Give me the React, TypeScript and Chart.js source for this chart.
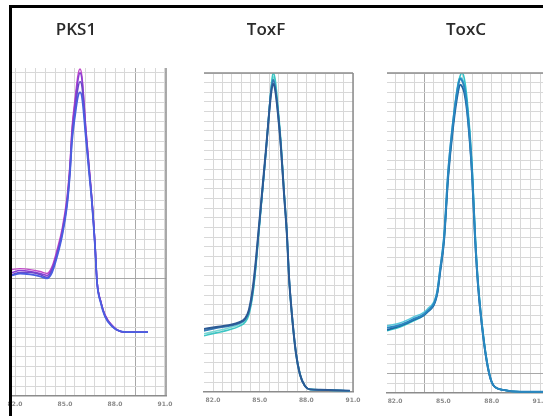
import React, { useEffect, useRef } from "react";
import { Chart, registerables } from "chart.js";
Chart.register(...registerables);

// ---- shared axis data ----
const xTickLabels = [82, 85, 88, 91];
const xGridStep = 0.6;
const yGridStep = 1;

// ---- PKS1 ----
const pksTemps = [81.82, 82.3, 82.9, 83.5, 83.92, 84.22, 84.52, 84.82, 85.12, 85.3, 85.42, 85.6, 85.78, 85.9, 86.02, 86.26, 86.44, 86.62, 86.8, 86.92, 87.16, 87.4, 87.82, 88.3, 88.9, 89.98];
const pksMagenta = [12.9, 13.0, 12.9, 12.7, 12.5, 13.2, 14.9, 17.0, 20.3, 23.8, 27.4, 30.3, 32.8, 33.4, 32.6, 27.2, 23.6, 20.0, 15.6, 11.8, 9.6, 8.3, 7.2, 6.6, 6.5, 6.5];
const pksPurple = [12.6, 12.8, 12.7, 12.5, 12.3, 13.0, 14.6, 16.7, 19.9, 23.4, 26.9, 29.8, 32.3, 33.0, 32.3, 26.9, 23.4, 19.9, 15.5, 11.7, 9.5, 8.2, 7.2, 6.6, 6.5, 6.5];
const pksViolet = [12.4, 12.6, 12.6, 12.4, 12.1, 12.8, 14.4, 16.5, 19.6, 23.0, 26.4, 29.1, 31.5, 32.1, 31.6, 26.6, 23.2, 19.8, 15.4, 11.7, 9.5, 8.2, 7.1, 6.6, 6.5, 6.5];
const pksBlue = [12.3, 12.5, 12.4, 12.2, 12.0, 12.6, 14.2, 16.3, 19.4, 22.8, 26.0, 28.6, 30.6, 31.0, 30.5, 26.2, 22.9, 19.6, 15.3, 11.6, 9.4, 8.1, 7.1, 6.6, 6.5, 6.5];

// ---- ToxF ----
const toxfTemps = [81.42, 82.2, 83.0, 83.7, 84.06, 84.31, 84.57, 84.76, 84.89, 85.15, 85.41, 85.6, 85.73, 85.86, 85.99, 86.18, 86.37, 86.56, 86.76, 86.88, 87.07, 87.33, 87.59, 87.91, 88.23, 88.88, 90.8];
const toxfNavy = [6.5, 6.7, 6.9, 7.2, 7.6, 8.5, 10.9, 13.7, 16.0, 20.6, 25.2, 28.7, 30.8, 31.9, 31.3, 28.7, 25.2, 20.6, 16.0, 12.0, 8.0, 4.0, 1.8, 0.6, 0.25, 0.2, 0.1];
const toxfSteel = [6.3, 6.6, 6.8, 7.1, 7.5, 8.3, 10.6, 13.4, 15.8, 20.4, 25.0, 28.8, 31.1, 32.3, 31.6, 28.9, 25.3, 20.7, 16.1, 12.1, 8.1, 4.1, 1.8, 0.6, 0.25, 0.2, 0.1];
const toxfTeal = [5.8, 6.1, 6.4, 6.8, 7.2, 8.0, 10.2, 13.0, 15.4, 20.2, 25.0, 28.8, 31.4, 33.0, 32.4, 29.4, 25.8, 21.0, 16.2, 12.1, 8.1, 4.1, 1.9, 0.6, 0.25, 0.2, 0.1];
const toxfCyan = [6.0, 6.3, 6.6, 7.0, 7.4, 8.2, 10.4, 13.2, 15.6, 20.3, 25.1, 28.9, 31.3, 32.6, 32.0, 29.1, 25.5, 20.8, 16.0, 11.9, 7.9, 3.9, 1.7, 0.6, 0.25, 0.2, 0.1];

// ---- ToxC ----
const toxcTemps = [81.5, 82.31, 83.12, 83.99, 84.61, 84.8, 85.04, 85.3, 85.6, 85.91, 86.04, 86.16, 86.29, 86.47, 86.78, 86.97, 87.16, 87.47, 87.78, 88.09, 88.71, 89.76, 91.9];
const toxcBlue = [6.7, 7.0, 7.6, 8.4, 10.3, 12.7, 16.0, 22.8, 27.9, 31.6, 32.4, 32.2, 31.6, 29.5, 22.8, 16.0, 11.0, 5.9, 2.5, 0.8, 0.3, 0.1, 0.1];
const toxcDeep = [6.5, 6.9, 7.5, 8.3, 10.1, 12.4, 15.6, 22.2, 27.3, 31.0, 31.8, 31.6, 31.0, 29.0, 22.4, 15.7, 10.8, 5.8, 2.4, 0.8, 0.3, 0.1, 0.1];
const toxcTeal = [6.4, 6.8, 7.4, 8.3, 10.2, 12.6, 15.8, 22.4, 27.6, 31.8, 32.7, 33.0, 32.5, 30.3, 23.6, 16.6, 11.4, 6.1, 2.6, 0.8, 0.3, 0.1, 0.1];
const toxcSky = [6.9, 7.2, 7.8, 8.6, 10.5, 12.9, 16.2, 23.0, 28.1, 31.9, 32.5, 32.4, 31.8, 29.8, 23.2, 16.3, 11.2, 6.0, 2.5, 0.8, 0.3, 0.1, 0.1];

type Series = { values: number[]; color: string; width: number };
type PanelCfg = {
  title: string;
  temps: number[];
  series: Series[];
  left: number;
  width: number;
  pad: { left: number; right: number; top: number; bottom: number };
  xMin: number;
  xMax: number;
  yMax: number;
  darkX: number | null;
  darkY: number | null;
  borderTop: boolean;
  borderRight: boolean;
  titleX: number;
  titleY: number;
};

// Note: Chart.js paints dataset 0 on top.
const panels: PanelCfg[] = [
  {
    title: "PKS1",
    temps: pksTemps,
    series: [
      { values: pksBlue, color: "#4a5ee0", width: 1.8 },
      { values: pksViolet, color: "#6a48c8", width: 1.6 },
      { values: pksPurple, color: "#8a3fd4", width: 1.6 },
      { values: pksMagenta, color: "#c048c8", width: 1.4 },
    ],
    left: 0,
    width: 185,
    pad: { left: 12, right: 19, top: 68, bottom: 3 },
    xMin: 81.82,
    xMax: 91.06,
    yMax: 33.5,
    darkX: 89.2,
    darkY: 12,
    borderTop: false,
    borderRight: true,
    titleX: 76,
    titleY: 30,
  },
  {
    title: "ToxF",
    temps: toxfTemps,
    series: [
      { values: toxfNavy, color: "#2c5a94", width: 2 },
      { values: toxfSteel, color: "#3478b4", width: 1.8 },
      { values: toxfTeal, color: "#3cc6c4", width: 1.6 },
      { values: toxfCyan, color: "#7ad8d4", width: 1.6 },
    ],
    left: 190,
    width: 180,
    pad: { left: 14, right: 17, top: 73, bottom: 7 },
    xMin: 81.42,
    xMax: 91.0,
    yMax: 33,
    darkX: null,
    darkY: null,
    borderTop: true,
    borderRight: true,
    titleX: 76,
    titleY: 30,
  },
  {
    title: "ToxC",
    temps: toxcTemps,
    series: [
      { values: toxcBlue, color: "#2a86c0", width: 2 },
      { values: toxcDeep, color: "#1f64a0", width: 1.8 },
      { values: toxcTeal, color: "#30c2c8", width: 1.6 },
      { values: toxcSky, color: "#58c8dc", width: 1.6 },
    ],
    left: 372,
    width: 190,
    pad: { left: 15, right: 7, top: 73, bottom: 6 },
    xMin: 81.5,
    xMax: 91.93,
    yMax: 33,
    darkX: 83.8,
    darkY: 2,
    borderTop: true,
    borderRight: true,
    titleX: 94,
    titleY: 30,
  },
];

function gridValues(min: number, max: number, anchor: number, step: number): number[] {
  const out: number[] = [];
  const start = anchor - Math.floor((anchor - min) / step + 1e-9) * step;
  for (let v = start; v <= max + 1e-9; v += step) out.push(Math.round(v * 1000) / 1000);
  return out;
}

const overlayPlugin = {
  id: "overlay",
  afterDraw(chart: any, _args: any, opts: any) {
    const { ctx, chartArea: a } = chart;
    ctx.save();
    ctx.strokeStyle = "#8c8c8c";
    ctx.lineWidth = 1.5;
    if (opts.top) {
      ctx.beginPath();
      ctx.moveTo(a.left, a.top);
      ctx.lineTo(a.right, a.top);
      ctx.stroke();
    }
    if (opts.right) {
      ctx.beginPath();
      ctx.moveTo(a.right, a.top);
      ctx.lineTo(a.right, a.bottom);
      ctx.stroke();
    }
    ctx.fillStyle = "#2a2a2a";
    ctx.font = '600 17px "Open Sans", sans-serif';
    ctx.textAlign = "center";
    ctx.textBaseline = "middle";
    ctx.fillText(opts.title, opts.titleX, opts.titleY);
    ctx.restore();
  },
};

function Panel({ cfg }: { cfg: PanelCfg }) {
  const ref = useRef<HTMLCanvasElement | null>(null);
  useEffect(() => {
    if (!ref.current) return;
    const xs = gridValues(cfg.xMin, cfg.xMax, xTickLabels[0], xGridStep);
    const ys = gridValues(0, cfg.yMax, 0, yGridStep);
    const near = (a: number, b: number | null) => b !== null && Math.abs(a - b) < 1e-6;
    const chart = new Chart(ref.current, {
      type: "line",
      data: {
        datasets: cfg.series.map((s) => ({
          data: cfg.temps.map((t, i) => ({ x: t, y: s.values[i] })),
          borderColor: s.color,
          borderWidth: s.width,
          pointRadius: 0,
          fill: false,
          cubicInterpolationMode: "monotone" as const,
        })),
      },
      options: {
        animation: false,
        responsive: false,
        maintainAspectRatio: false,
        devicePixelRatio: 1,
        layout: { padding: cfg.pad },
        plugins: {
          legend: { display: false },
          tooltip: { enabled: false },
          title: { display: false },
          overlay: {
            title: cfg.title,
            titleX: cfg.titleX,
            titleY: cfg.titleY,
            top: cfg.borderTop,
            right: cfg.borderRight,
          },
        } as any,
        scales: {
          x: {
            type: "linear",
            min: cfg.xMin,
            max: cfg.xMax,
            afterBuildTicks: (s: any) => {
              s.ticks = xs.map((v) => ({ value: v }));
            },
            ticks: {
              autoSkip: false,
              maxRotation: 0,
              padding: 5,
              color: "#8a8a8a",
              font: { size: 6, family: "DejaVu Sans", weight: "bold" },
              callback: (v: any) =>
                xTickLabels.some((l) => Math.abs(l - Number(v)) < 1e-6) ? Number(v).toFixed(1) : "",
            },
            grid: {
              drawTicks: false,
              lineWidth: 1,
              color: (c: any) => (near(c.tick?.value, cfg.darkX) ? "#a8a8a8" : "#d8d8d8"),
            },
            border: { display: true, color: "#8c8c8c", width: 1.5 },
          },
          y: {
            type: "linear",
            min: 0,
            max: cfg.yMax,
            afterBuildTicks: (s: any) => {
              s.ticks = ys.map((v) => ({ value: v }));
            },
            ticks: { display: false },
            grid: {
              drawTicks: false,
              lineWidth: 1,
              color: (c: any) => (near(c.tick?.value, cfg.darkY) ? "#a8a8a8" : "#d8d8d8"),
            },
            border: { display: false },
          },
        },
      },
      plugins: [overlayPlugin],
    } as any);
    return () => chart.destroy();
  }, [cfg]);
  return (
    <canvas
      ref={ref}
      width={cfg.width}
      height={416}
      style={{ position: "absolute", left: cfg.left, top: 0, width: cfg.width, height: 416 }}
    />
  );
}

export default function App() {
  return (
    <div
      style={{
        position: "fixed",
        left: 0,
        top: 0,
        width: 543,
        height: 416,
        overflow: "hidden",
        background: "#ffffff",
      }}
    >
      {panels.map((p) => (
        <Panel key={p.title} cfg={p} />
      ))}
      <div style={{ position: "absolute", left: 9, top: 5, width: 534, height: 3, background: "#000" }} />
      <div style={{ position: "absolute", left: 9, top: 5, width: 3, height: 411, background: "#000" }} />
    </div>
  );
}
